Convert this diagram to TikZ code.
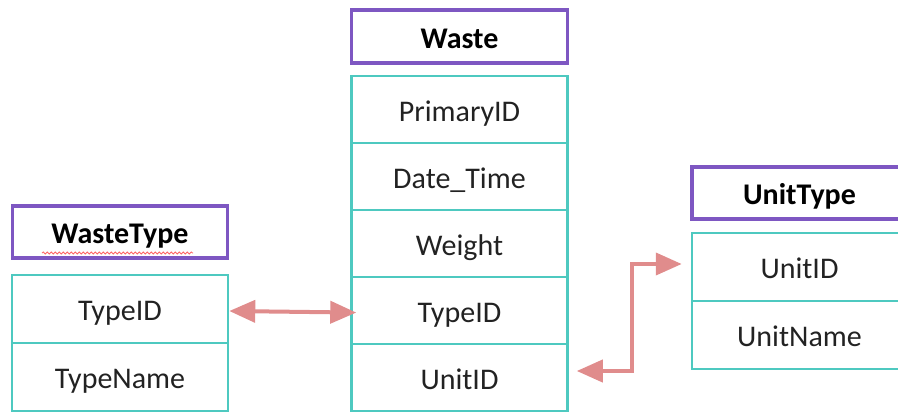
\documentclass[tikz,border=0pt]{standalone}
\usepackage{fontspec}
\setmainfont{Carlito}
\usetikzlibrary{arrows.meta,decorations.pathmorphing}
\definecolor{hdr}{HTML}{7E57C2}
\definecolor{rowc}{HTML}{4EC9C0}
\definecolor{arrc}{HTML}{E08C8C}
\definecolor{txt}{HTML}{222222}
\begin{document}
\begin{tikzpicture}[x=1pt,y=-1pt,
  hdrbox/.style={draw=hdr, line width=3.5pt, minimum width=215pt, minimum height=52pt, inner sep=0pt,
    text height=23pt, text depth=0pt,
    font=\fontsize{30}{36}\selectfont\bfseries, text=black},
  rowbox/.style={draw=rowc, line width=2.5pt, minimum width=216pt, minimum height=67pt, inner sep=0pt,
    text height=23pt, text depth=0pt,
    font=\fontsize{30}{36}\selectfont, text=txt},
  relarrow/.style={draw=arrc, line width=4pt, {Triangle[length=26pt,width=22pt]}-{Triangle[length=26pt,width=22pt]}}]
\useasboundingbox (0,0) rectangle (898,413);
\clip (0,0) rectangle (898,413);
% WasteType
\node[hdrbox] (wth) at (120,232) {WasteType};
\node[rowbox, minimum height=68pt] (wt1) at (120,309) {TypeID};
\node[rowbox, minimum height=68pt] (wt2) at (120,377) {TypeName};
\draw[red!60, line width=0.8pt, decorate, decoration={snake, amplitude=1pt, segment length=4pt}] (42,253) -- (193,253);
% Waste
\node[hdrbox, minimum width=216pt, minimum height=53pt] (wh) at (459.5,36.5) {Waste};
\node[rowbox] (w1) at (459.5,109.5) {PrimaryID};
\node[rowbox] (w2) at (459.5,176.5) {Date\_Time};
\node[rowbox] (w3) at (459.5,243.5) {Weight};
\node[rowbox] (w4) at (459.5,310.5) {TypeID};
\node[rowbox] (w5) at (459.5,377.5) {UnitID};
% UnitType
\node[hdrbox] (uh) at (799.5,193) {UnitType};
\node[rowbox, minimum width=215pt, minimum height=68pt] (u1) at (799.5,267) {UnitID};
\node[rowbox, minimum width=215pt, minimum height=68pt] (u2) at (799.5,335) {UnitName};
% relations
\draw[relarrow, shorten >=-6pt] ([yshift=-2pt]wt1.east) -- ([yshift=-2pt]w4.west);
\draw[relarrow] ([xshift=8pt,yshift=6.5pt]w5.east) -- ++(55,0) |- ([xshift=-9pt,yshift=3pt]u1.west);
\end{tikzpicture}
\end{document}
